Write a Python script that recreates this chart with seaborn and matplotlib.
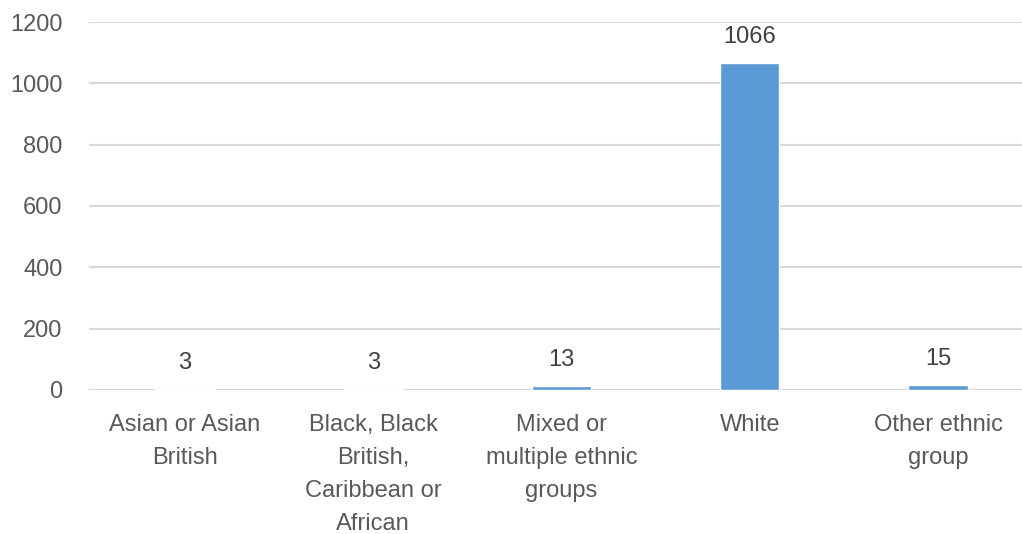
import matplotlib
matplotlib.use("Agg")
import matplotlib.pyplot as plt
import seaborn as sns
import pandas as pd

categories = [
    "Asian or Asian\nBritish",
    "Black, Black\nBritish,\nCaribbean or\nAfrican",
    "Mixed or\nmultiple ethnic\ngroups",
    "White",
    "Other ethnic\ngroup",
]
counts = [3, 3, 13, 1066, 15]
y_ticks = [0, 200, 400, 600, 800, 1000, 1200]

sns.set_style("white")
plt.rcParams['font.family'] = ['Liberation Sans', 'DejaVu Sans']

df = pd.DataFrame({"group": categories, "count": counts})

fig = plt.figure(figsize=(10.22, 5.34), dpi=100)
ax = fig.add_axes([0.087, 0.2697, 0.913, 0.6891])

sns.barplot(data=df, x="group", y="count", color="#5b9bd5", saturation=1,
            width=0.315, ax=ax, zorder=3)

ax.set_xlim(-0.51, 4.446)
ax.set_ylim(0, 1200)
ax.set_yticks(y_ticks)
ax.yaxis.grid(True, color="#d9d9d9", linewidth=1.5, zorder=0)
ax.set_axisbelow(True)
for s in ax.spines.values():
    s.set_visible(False)
ax.axhline(0, color="#d9d9d9", linewidth=1.5, zorder=1)

ax.tick_params(axis="y", length=0, pad=19, labelsize=17, labelcolor="#595959")
ax.tick_params(axis="x", length=0, pad=17, labelsize=17, labelcolor="#595959")
for t in ax.get_xticklabels():
    t.set_linespacing(1.66)
    t.set_verticalalignment("top")

for i, v in enumerate(counts):
    ax.annotate(str(v), (i, v), xytext=(0, 11), textcoords="offset points",
                ha="center", va="bottom", fontsize=17, color="#404040")

ax.set_xlabel("")
ax.set_ylabel("")

fig.savefig("out.png", dpi=100)
